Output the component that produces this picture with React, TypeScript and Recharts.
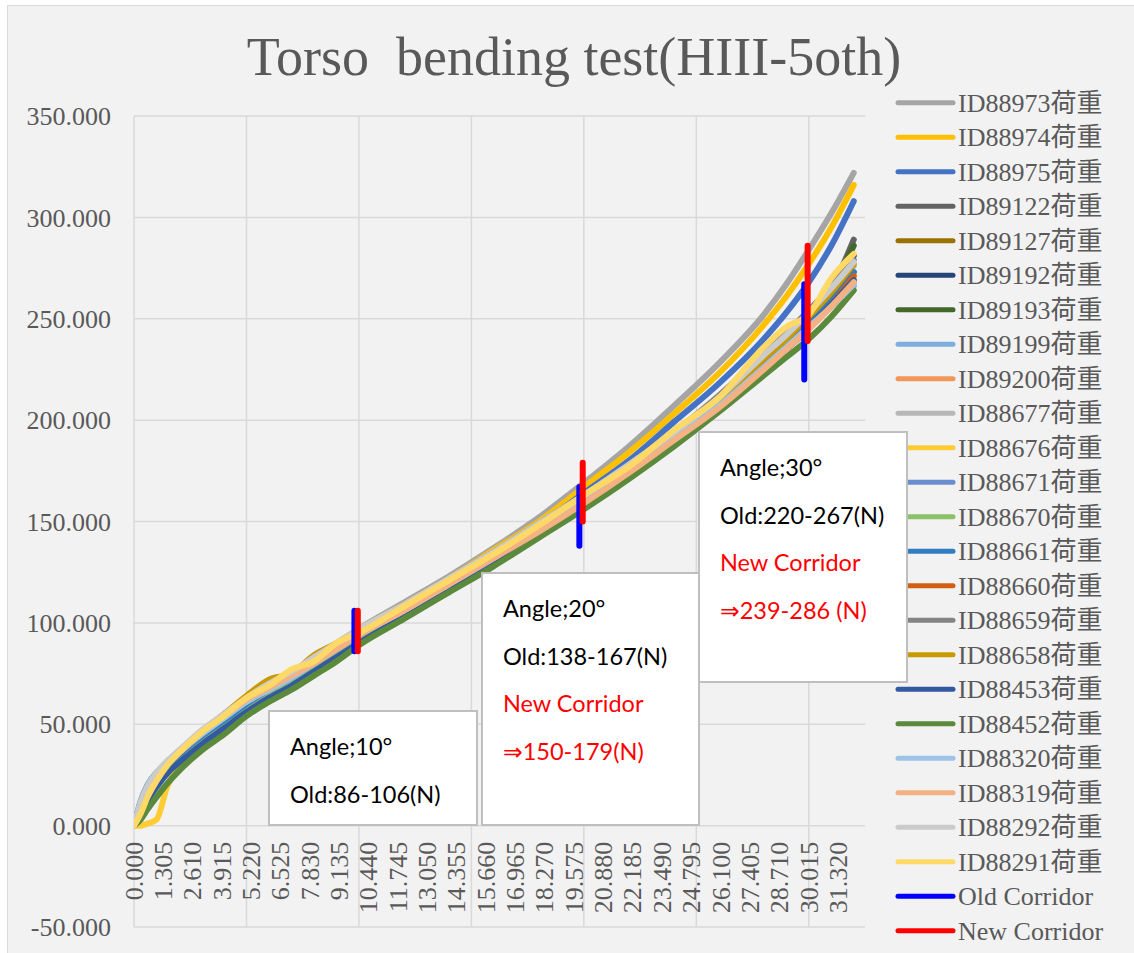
import React from 'react';
import { LineChart, Line, XAxis, YAxis, CartesianGrid } from 'recharts';

// ---------- data ----------
const angles = [0, 0.3, 0.6, 1, 1.5, 2, 3, 4, 5, 6, 7, 8, 9, 10, 12, 14, 16, 18, 20, 22, 24, 26, 28, 29, 30, 31, 32];

const seriesNames = [
  'ID88973荷重', 'ID88974荷重', 'ID88975荷重', 'ID89122荷重', 'ID89127荷重', 'ID89192荷重',
  'ID89193荷重', 'ID89199荷重', 'ID89200荷重', 'ID88677荷重', 'ID88676荷重', 'ID88671荷重',
  'ID88670荷重', 'ID88661荷重', 'ID88660荷重', 'ID88659荷重', 'ID88658荷重', 'ID88453荷重',
  'ID88452荷重', 'ID88320荷重', 'ID88319荷重', 'ID88292荷重', 'ID88291荷重',
];

const seriesColors = [
  '#a5a5a5', '#ffc000', '#4472c4', '#636363', '#997300', '#264478',
  '#43682b', '#7cafdd', '#f1975a', '#b7b7b7', '#ffcd33', '#698ed0',
  '#8cc168', '#327dc2', '#d26012', '#848484', '#c99a00', '#335aa1',
  '#5b8a3c', '#9dc3e6', '#f4b183', '#cbcbcb', '#ffd966',
];

const s88973 = [0, 9, 17, 25, 31, 36, 46, 54, 62, 69, 75, 82, 89, 97, 110, 123, 137, 152, 169, 187, 207, 228, 252, 267, 284, 302, 322];
const s88974 = [0, 8, 16, 24, 30, 35, 45, 53, 61, 68, 74, 81, 88, 96, 109, 122, 136, 150, 167, 184, 203, 223, 247, 261, 277, 295, 316];
const s88975 = [0, 9, 17, 24, 30, 35, 44, 52, 60, 67, 73, 80, 87, 95, 108, 121, 134, 148, 164, 180, 199, 218, 240, 253, 268, 286, 308];
const s89122 = [0, 10, 18, 25, 31, 36, 45, 53, 61, 68, 74, 81, 88, 95, 108, 121, 134, 148, 162, 177, 193, 211, 232, 242, 253, 265, 289];
const s89127 = [0, 8, 16, 24, 31, 36, 46, 54, 62, 69, 75, 81, 88, 96, 108, 121, 134, 148, 162, 177, 193, 210, 230, 240, 250, 261, 273];
const s89192 = [0, 7, 15, 22, 29, 34, 43, 51, 59, 66, 72, 78, 85, 93, 105, 118, 131, 145, 159, 174, 190, 208, 228, 238, 249, 262, 281];
const s89193 = [0, 12, 20, 26, 31, 35, 44, 52, 60, 67, 73, 80, 87, 94, 107, 120, 133, 147, 161, 176, 192, 210, 231, 241, 252, 265, 286];
const s89199 = [0, 11, 19, 25, 30, 34, 43, 51, 59, 66, 72, 79, 86, 93, 106, 119, 132, 145, 159, 174, 190, 207, 226, 236, 246, 256, 266];
const s89200 = [0, 8, 16, 24, 30, 35, 44, 52, 60, 67, 73, 80, 87, 94, 107, 120, 133, 146, 160, 175, 191, 208, 227, 237, 247, 258, 269];
const s88677 = [0, 10, 19, 26, 32, 37, 46, 54, 62, 69, 75, 82, 89, 96, 109, 122, 135, 149, 163, 178, 194, 212, 232, 243, 254, 265, 276];
const s88676 = [0, 0, 1, 3, 20, 29, 40, 49, 58, 65, 71, 78, 85, 93, 106, 119, 132, 146, 160, 175, 191, 208, 228, 238, 249, 260, 272];
const s88671 = [0, 6, 13, 20, 27, 33, 42, 50, 58, 65, 71, 78, 85, 92, 105, 118, 131, 145, 159, 174, 190, 207, 226, 236, 246, 257, 268];
const s88670 = [0, 7, 14, 21, 28, 33, 42, 50, 58, 65, 71, 78, 85, 92, 105, 118, 131, 145, 159, 174, 190, 207, 227, 237, 247, 257, 269];
const s88661 = [0, 9, 17, 24, 30, 35, 44, 52, 60, 67, 73, 80, 87, 94, 107, 120, 133, 147, 161, 176, 192, 209, 229, 239, 249, 260, 273];
const s88660 = [0, 9, 17, 25, 31, 36, 46, 55, 63, 70, 76, 82, 89, 96, 108, 121, 134, 147, 161, 175, 190, 207, 226, 235, 245, 257, 271];
const s88659 = [0, 9, 18, 25, 31, 36, 45, 54, 62, 69, 75, 82, 89, 96, 109, 122, 135, 149, 163, 178, 194, 212, 233, 243, 254, 266, 279];
const s88658 = [0, 8, 16, 24, 31, 36, 46, 55, 64, 72, 75, 84, 90, 97, 109, 122, 135, 148, 162, 177, 193, 210, 230, 240, 251, 263, 277];
const s88453 = [0, 5, 12, 19, 26, 31, 40, 48, 56, 63, 69, 76, 83, 90, 103, 116, 129, 143, 157, 172, 188, 205, 225, 235, 246, 257, 269];
const s88452 = [0, 3, 8, 14, 21, 27, 37, 45, 54, 61, 67, 74, 81, 89, 102, 115, 128, 142, 156, 171, 187, 204, 222, 231, 240, 251, 264];
const s88320 = [0, 12, 20, 26, 31, 36, 45, 53, 61, 67, 73, 80, 87, 94, 106, 119, 132, 146, 160, 175, 191, 207, 226, 236, 246, 256, 267];
const s88319 = [0, 10, 18, 25, 31, 36, 46, 54, 62, 68, 74, 80, 87, 94, 106, 119, 132, 145, 159, 174, 190, 206, 225, 235, 245, 256, 268];
const s88292 = [0, 11, 19, 26, 32, 37, 47, 55, 63, 70, 76, 83, 90, 97, 109, 122, 135, 149, 163, 178, 194, 211, 232, 242, 253, 265, 278];
const s88291 = [0, 6, 14, 22, 30, 36, 46, 54, 63, 69, 77, 81, 90, 95, 108, 121, 134, 148, 163, 177, 195, 211, 236, 246, 252, 270, 282];

const seriesValues = [
  s88973, s88974, s88975, s89122, s89127, s89192, s89193, s89199, s89200, s88677, s88676, s88671,
  s88670, s88661, s88660, s88659, s88658, s88453, s88452, s88320, s88319, s88292, s88291,
];

const oldCorridorAngles = [9.8, 19.8, 29.8];
const oldCorridorLow = [86, 138, 220];
const oldCorridorHigh = [106, 167, 267];
const newCorridorAngles = [9.95, 19.95, 29.95];
const newCorridorLow = [86, 150, 239];
const newCorridorHigh = [106, 179, 286];

const xTickValues = [0, 1.305, 2.61, 3.915, 5.22, 6.525, 7.83, 9.135, 10.44, 11.745, 13.05, 14.355, 15.66,
  16.965, 18.27, 19.575, 20.88, 22.185, 23.49, 24.795, 26.1, 27.405, 28.71, 30.015, 31.32];
const gridAngles = [0, 5, 10, 15, 20, 25, 30];
const yTicks = [-50, 0, 50, 100, 150, 200, 250, 300, 350];
const X_DOMAIN = [0, 32.5];

const legendNames = [...seriesNames, 'Old Corridor', 'New Corridor'];
const legendColors = [...seriesColors, '#0000ff', '#ff0000'];

// ---------- layout ----------
const CH_W = 1126;
const CH_H = 946;
const AXIS_H = 1;
const MARGIN = { top: 110, right: 269, bottom: 24, left: 0 };
const Y_MIN = -50;
const Y_MAX = 350;
const plotH = CH_H - MARGIN.top - MARGIN.bottom - AXIS_H;
const zeroShift = (plotH * (0 - Y_MIN)) / (Y_MAX - Y_MIN);

const SERIF = '"Liberation Serif", "Noto Sans CJK JP", serif';
const SANS = 'Lato, "DejaVu Sans", sans-serif';
const GRAY = '#595959';

const renderXTick = (props: any) => {
  const { x, y, payload, index } = props;
  return (
    <text
      key={index}
      transform={`translate(${x},${y - zeroShift + 16}) rotate(-90)`}
      textAnchor="end"
      dominantBaseline="central"
      fill={GRAY}
      fontSize={26}
      fontFamily={SERIF}
    >
      {Number(payload.value).toFixed(3)}
    </text>
  );
};

const gridX = (args: any) => {
  const { xAxis, offset } = args || {};
  if (xAxis && typeof xAxis.scale === 'function') {
    return gridAngles.map((v) => xAxis.scale(v));
  }
  const left = offset?.left ?? 0;
  const w = offset?.width ?? 0;
  return gridAngles.map((v) => left + ((v - X_DOMAIN[0]) / (X_DOMAIN[1] - X_DOMAIN[0])) * w);
};

const boxes = [
  { x: 269, y: 711, w: 208, h: 114, lines: [['Angle;10°', '#000'], ['Old:86-106(N)', '#000']] },
  { x: 482, y: 573, w: 217, h: 252, lines: [['Angle;20°', '#000'], ['Old:138-167(N)', '#000'], ['New Corridor', '#ff0000'], ['⇒150-179(N)', '#ff0000']] },
  { x: 699, y: 432, w: 208, h: 250, lines: [['Angle;30°', '#000'], ['Old:220-267(N)', '#000'], ['New Corridor', '#ff0000'], ['⇒239-286 (N)', '#ff0000']] },
];

export default function App() {
  const seriesData = seriesValues.map((vals) => angles.map((a, i) => ({ x: a, y: vals[i] })));
  const oldSegs = oldCorridorAngles.map((a, i) => [{ x: a, y: oldCorridorLow[i] }, { x: a, y: oldCorridorHigh[i] }]);
  const newSegs = newCorridorAngles.map((a, i) => [{ x: a, y: newCorridorLow[i] }, { x: a, y: newCorridorHigh[i] }]);

  return (
    <div style={{ position: 'absolute', left: 0, top: 0, width: 1134, height: 953, overflow: 'hidden' }}>
      <div style={{ position: 'absolute', left: 7, top: 5, width: 1140, height: 960, background: '#f2f2f2', border: '1px solid #d9d9d9' }} />
      <div style={{ position: 'absolute', left: 8, top: 6 }}>
        <LineChart width={CH_W} height={CH_H} margin={MARGIN}>
          <CartesianGrid stroke="#d9d9d9" strokeWidth={1.5} verticalCoordinatesGenerator={gridX} />
          <XAxis
            type="number"
            dataKey="x"
            domain={X_DOMAIN}
            ticks={xTickValues}
            interval={0}
            tick={renderXTick}
            axisLine={false}
            tickLine={false}
            tickSize={0}
            tickMargin={0}
            height={AXIS_H}
            allowDataOverflow
          />
          <YAxis
            type="number"
            domain={[Y_MIN, Y_MAX]}
            ticks={yTicks}
            interval={0}
            tickFormatter={(v: number) => v.toFixed(3)}
            width={126}
            axisLine={false}
            tickLine={false}
            tickSize={0}
            tickMargin={23}
            tick={{ fill: GRAY, fontSize: 26, fontFamily: SERIF }}
            allowDataOverflow
          />
          {seriesData.map((d, i) => (
            <Line
              key={seriesNames[i]}
              data={d}
              dataKey="y"
              type="monotone"
              stroke={seriesColors[i]}
              strokeWidth={6}
              strokeLinecap="round"
              strokeLinejoin="round"
              dot={false}
              activeDot={false}
              isAnimationActive={false}
              name={seriesNames[i]}
            />
          ))}
          {oldSegs.map((d, i) => (
            <Line key={'old' + i} data={d} dataKey="y" type="linear" stroke="#0000ff" strokeWidth={6} strokeLinecap="round" dot={false} activeDot={false} isAnimationActive={false} name="Old Corridor" />
          ))}
          {newSegs.map((d, i) => (
            <Line key={'new' + i} data={d} dataKey="y" type="linear" stroke="#ff0000" strokeWidth={6} strokeLinecap="round" dot={false} activeDot={false} isAnimationActive={false} name="New Corridor" />
          ))}
        </LineChart>
      </div>
      <svg style={{ position: 'absolute', left: 0, top: 0, pointerEvents: 'none' }} width={1134} height={953}>
        <text x={574} y={75} textAnchor="middle" fontSize={54} fontFamily={SERIF} fill={GRAY} style={{ whiteSpace: 'pre' }}>
          {'Torso  bending test(HIII-5oth)'}
        </text>
        {legendNames.map((n, i) => {
          const cy = 102.7 + i * 34.5;
          return (
            <g key={n}>
              <line x1={898} x2={953} y1={cy} y2={cy} stroke={legendColors[i]} strokeWidth={5} strokeLinecap="round" />
              <text x={958} y={cy + 9} fontSize={26} fontFamily={SERIF} fill={GRAY}>{n}</text>
            </g>
          );
        })}
        {boxes.map((b, bi) => (
          <g key={bi}>
            <rect x={b.x} y={b.y} width={b.w} height={b.h} fill="#ffffff" stroke="#bfbfbf" strokeWidth={2} />
            {b.lines.map((l, li) => (
              <text key={li} x={b.x + 21} y={b.y + 44 + li * 47.7} fontSize={23.5} fontFamily={SANS} fill={l[1]}>{l[0]}</text>
            ))}
          </g>
        ))}
      </svg>
    </div>
  );
}
